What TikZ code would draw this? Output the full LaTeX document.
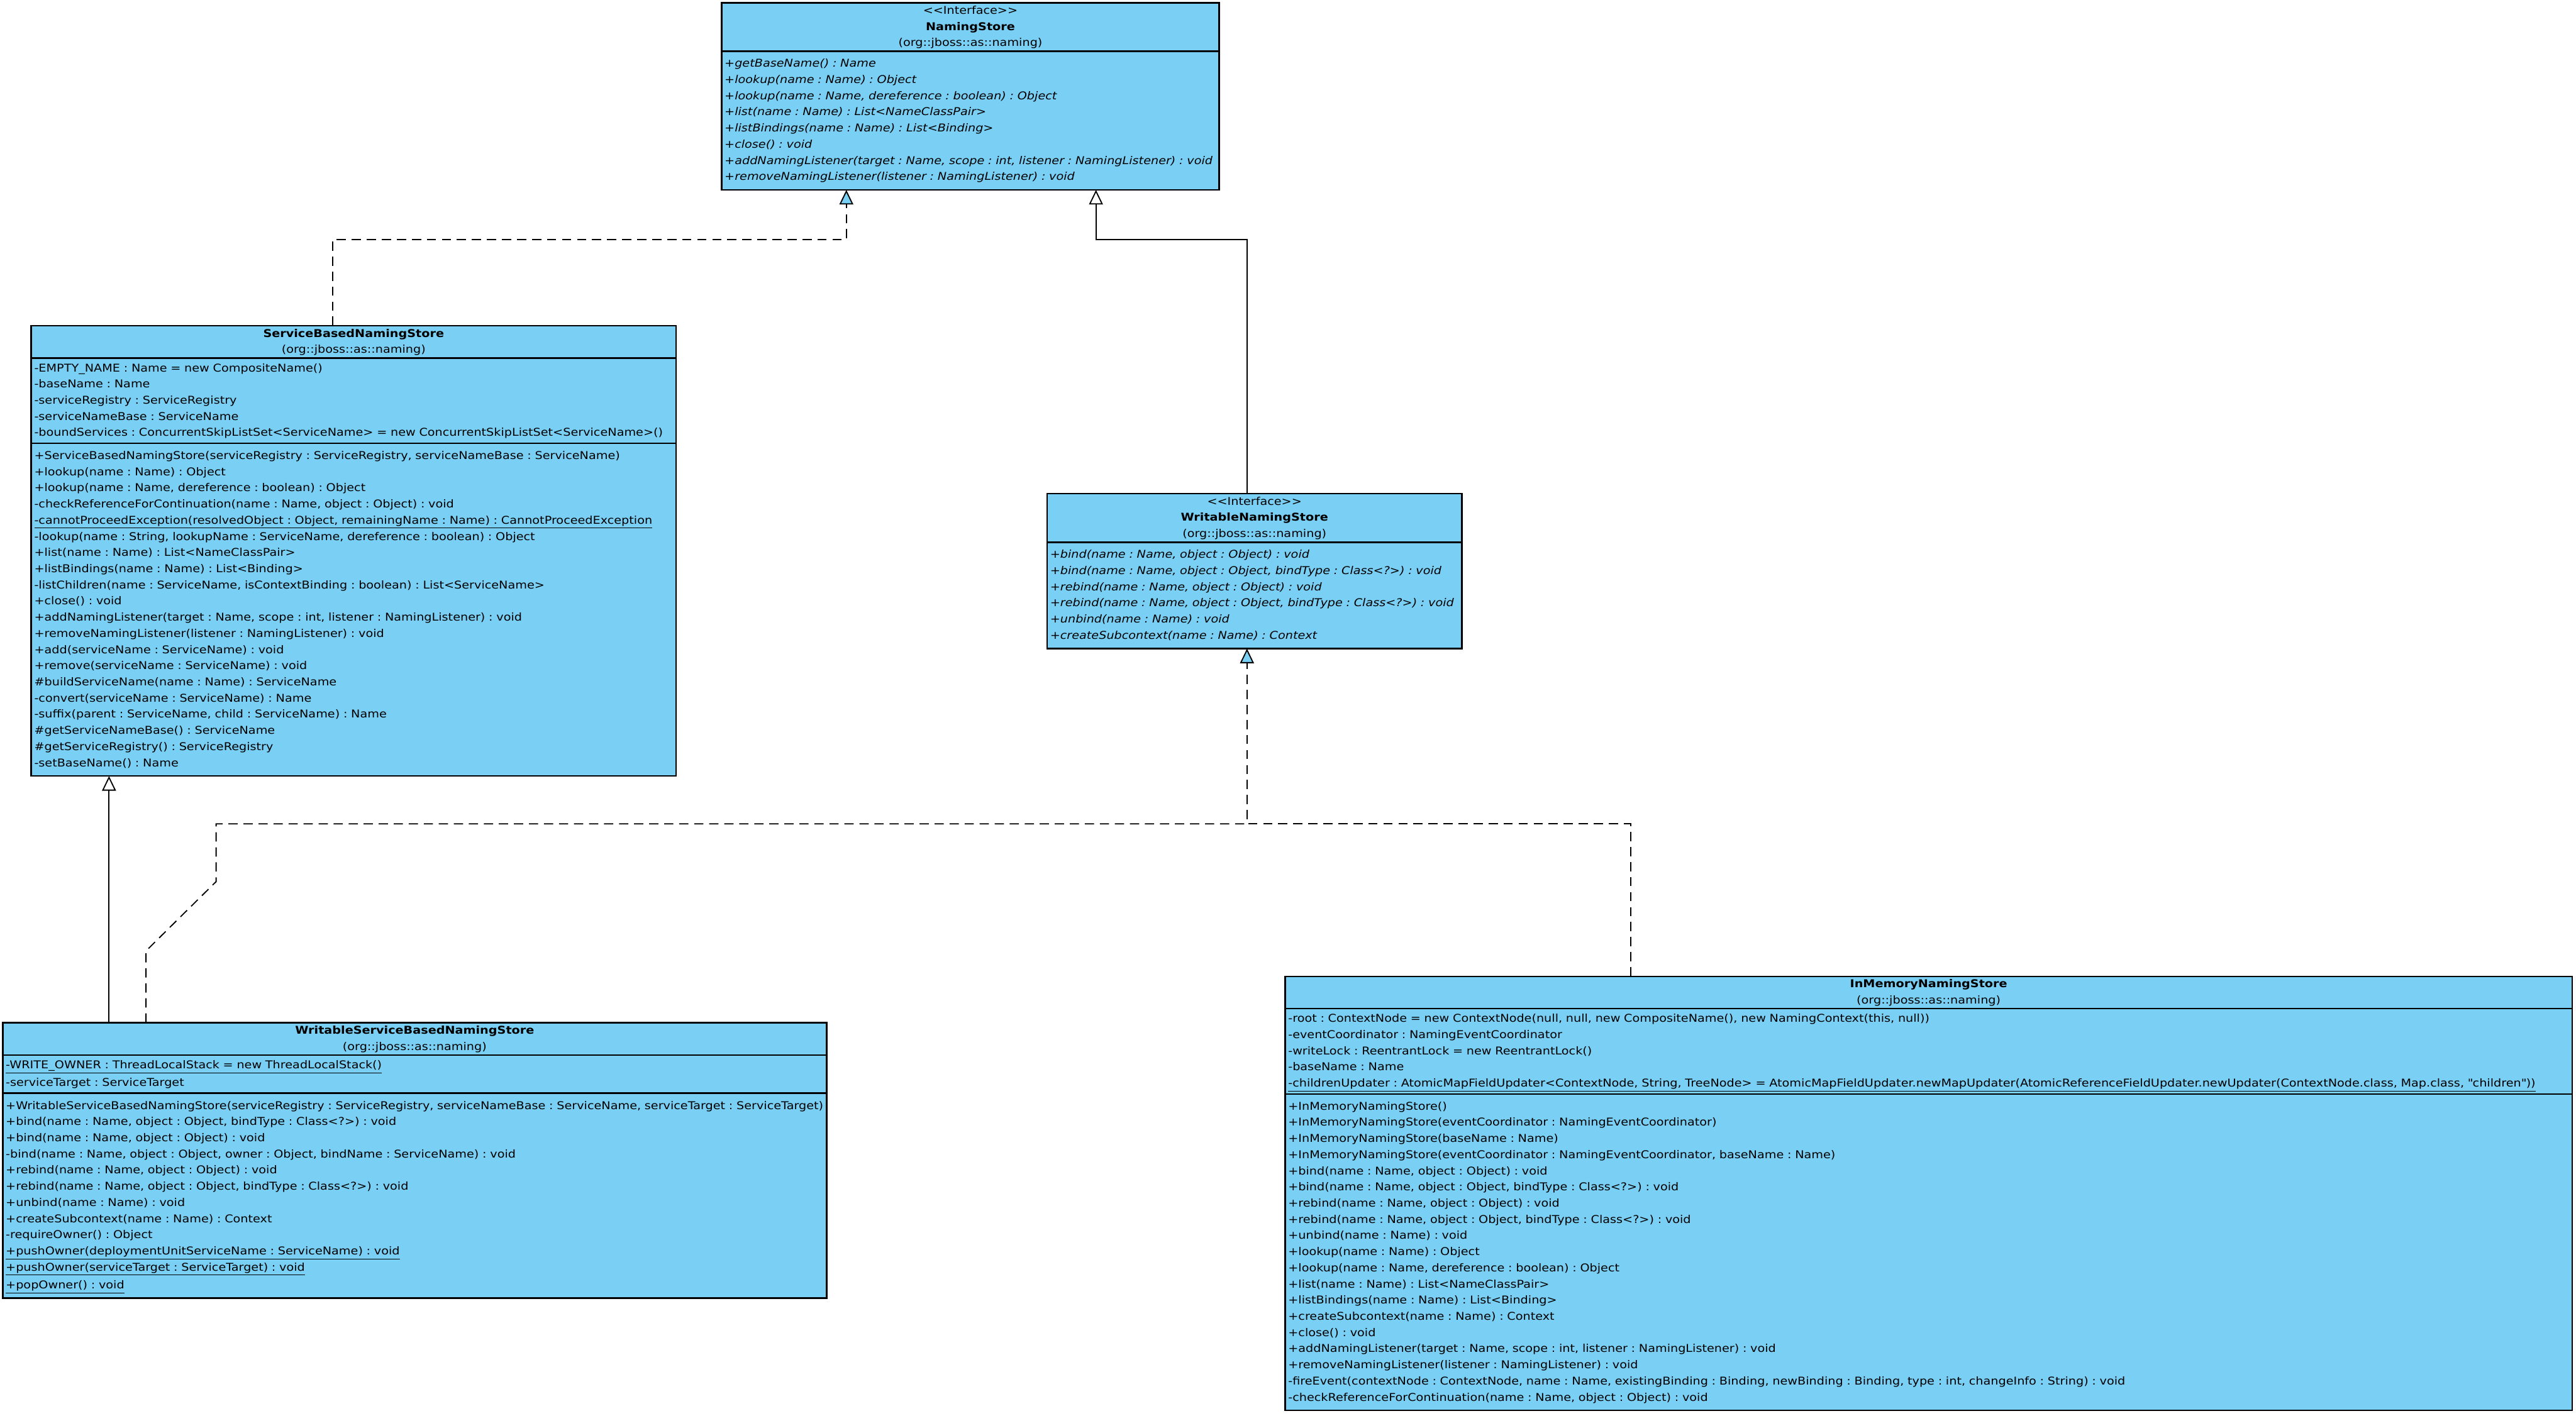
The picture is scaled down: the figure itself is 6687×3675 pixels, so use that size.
\documentclass[tikz,border=0pt]{standalone}
\usepackage{fontspec}
\setmainfont{DejaVu Sans}[FakeStretch=1.12]
\usetikzlibrary{positioning,arrows.meta}
\definecolor{umlblue}{HTML}{7ACFF5}
\newcommand{\umlfont}{\fontsize{7.97pt}{11.95pt}\selectfont\frenchspacing}
\tikzset{
  classbox/.style = {rectangle, draw=black, line width=0.4mm, fill=umlblue,
                     inner xsep=0.8mm, outer sep=0pt, font=\umlfont, anchor=north west,
                     execute at begin node={\parindent=0pt\strut}, execute at end node=\strut},
  hdrbox/.style   = {classbox, align=center, inner ysep=0pt},
  attbox/.style   = {classbox, align=left, inner ysep=0.55mm},
  opbox/.style    = {classbox, align=left, inner ysep=1.2mm},
  inherit/.style  = {line width=0.3mm, -{Triangle[open, length=3.8mm, width=3.6mm]}},
  dep/.style      = {line width=0.3mm, dash pattern=on 2.4mm off 1.5mm},
  realize/.style  = {dep, -{Triangle[fill=umlblue, length=3.8mm, width=3.6mm]}},
}

\begin{document}
\begin{tikzpicture}[x=0.1mm, y=-0.1mm]
  \path[use as bounding box, fill=white] (0,0) rectangle (6687,3675);

  % NamingStore
  \node[hdrbox, text width=127.6mm] (ns) at (1873,7)
    {<{}<Interface>{}>\\\textbf{NamingStore}\\(org::jboss::as::naming)};
  \node[opbox, text width=127.6mm, below=0pt of ns] (nsop) {\itshape
    +getBaseName() : Name\\
    +lookup(name : Name) : Object\\
    +lookup(name : Name, dereference : boolean) : Object\\
    +list(name : Name) : List<NameClassPair>\\
    +listBindings(name : Name) : List<Binding>\\
    +close() : void\\
    \mbox{+addNamingListener(target : Name, scope : int, listener : NamingListener) : void}\\
    +removeNamingListener(listener : NamingListener) : void};

  % ServiceBasedNamingStore
  \node[hdrbox, text width=165.8mm] (sb) at (81,846)
    {\textbf{ServiceBasedNamingStore}\\(org::jboss::as::naming)};
  \node[attbox, text width=165.8mm, below=0pt of sb] (sbat) {%
    -EMPTY\_NAME : Name = new CompositeName()\\
    -baseName : Name\\
    -serviceRegistry : ServiceRegistry\\
    -serviceNameBase : ServiceName\\
    \mbox{-boundServices : ConcurrentSkipListSet<ServiceName> = new ConcurrentSkipListSet<ServiceName>()}};
  \node[opbox, text width=165.8mm, below=0pt of sbat] (sbop) {%
    +ServiceBasedNamingStore(serviceRegistry : ServiceRegistry, serviceNameBase : ServiceName)\\
    +lookup(name : Name) : Object\\
    +lookup(name : Name, dereference : boolean) : Object\\
    -checkReferenceForContinuation(name : Name, object : Object) : void\\
    \underline{-cannotProceedException(resolvedObject : Object, remainingName : Name) : CannotProceedException}\\
    -lookup(name : String, lookupName : ServiceName, dereference : boolean) : Object\\
    +list(name : Name) : List<NameClassPair>\\
    +listBindings(name : Name) : List<Binding>\\
    -listChildren(name : ServiceName, isContextBinding : boolean) : List<ServiceName>\\
    +close() : void\\
    +addNamingListener(target : Name, scope : int, listener : NamingListener) : void\\
    +removeNamingListener(listener : NamingListener) : void\\
    +add(serviceName : ServiceName) : void\\
    +remove(serviceName : ServiceName) : void\\
    \#buildServiceName(name : Name) : ServiceName\\
    -convert(serviceName : ServiceName) : Name\\
    -suffix(parent : ServiceName, child : ServiceName) : Name\\
    \#getServiceNameBase() : ServiceName\\
    \#getServiceRegistry() : ServiceRegistry\\
    -setBaseName() : Name};

  % WritableNamingStore
  \node[hdrbox, text width=106.1mm] (wn) at (2718,1282)
    {<{}<Interface>{}>\\\textbf{WritableNamingStore}\\(org::jboss::as::naming)};
  \node[opbox, text width=106.1mm, below=0pt of wn] (wnop) {\itshape
    +bind(name : Name, object : Object) : void\\
    \mbox{+bind(name : Name, object : Object, bindType : Class<?>) : void}\\
    +rebind(name : Name, object : Object) : void\\
    \mbox{+rebind(name : Name, object : Object, bindType : Class<?>) : void}\\
    +unbind(name : Name) : void\\
    +createSubcontext(name : Name) : Context};

  % WritableServiceBasedNamingStore
  \node[hdrbox, text width=212.3mm] (ws) at (7,2655)
    {\textbf{WritableServiceBasedNamingStore}\\(org::jboss::as::naming)};
  \node[attbox, text width=212.3mm, below=0pt of ws] (wsat) {%
    \underline{-WRITE\_OWNER : ThreadLocalStack = new ThreadLocalStack()}\\
    -serviceTarget : ServiceTarget};
  \node[opbox, text width=212.3mm, below=0pt of wsat] (wsop) {%
    \mbox{+WritableServiceBasedNamingStore(serviceRegistry : ServiceRegistry, serviceNameBase : ServiceName, serviceTarget : ServiceTarget)}\\
    +bind(name : Name, object : Object, bindType : Class<?>) : void\\
    +bind(name : Name, object : Object) : void\\
    -bind(name : Name, object : Object, owner : Object, bindName : ServiceName) : void\\
    +rebind(name : Name, object : Object) : void\\
    +rebind(name : Name, object : Object, bindType : Class<?>) : void\\
    +unbind(name : Name) : void\\
    +createSubcontext(name : Name) : Context\\
    -requireOwner() : Object\\
    \underline{+pushOwner(deploymentUnitServiceName : ServiceName) : void}\\
    \underline{+pushOwner(serviceTarget : ServiceTarget) : void}\\
    \underline{+popOwner() : void}};

  % InMemoryNamingStore
  \node[hdrbox, text width=332.5mm] (im) at (3336,2535)
    {\textbf{InMemoryNamingStore}\\(org::jboss::as::naming)};
  \node[attbox, text width=332.5mm, below=0pt of im] (imat) {%
    -root : ContextNode = new ContextNode(null, null, new CompositeName(), new NamingContext(this, null))\\
    -eventCoordinator : NamingEventCoordinator\\
    -writeLock : ReentrantLock = new ReentrantLock()\\
    -baseName : Name\\
    \underline{-childrenUpdater : AtomicMapFieldUpdater<ContextNode, String, TreeNode> = AtomicMapFieldUpdater.newMapUpdater(AtomicReferenceFieldUpdater.newUpdater(ContextNode.class, Map.class, \textquotedbl children\textquotedbl))}};
  \node[opbox, text width=332.5mm, below=0pt of imat] (imop) {%
    +InMemoryNamingStore()\\
    +InMemoryNamingStore(eventCoordinator : NamingEventCoordinator)\\
    +InMemoryNamingStore(baseName : Name)\\
    +InMemoryNamingStore(eventCoordinator : NamingEventCoordinator, baseName : Name)\\
    +bind(name : Name, object : Object) : void\\
    +bind(name : Name, object : Object, bindType : Class<?>) : void\\
    +rebind(name : Name, object : Object) : void\\
    +rebind(name : Name, object : Object, bindType : Class<?>) : void\\
    +unbind(name : Name) : void\\
    +lookup(name : Name) : Object\\
    +lookup(name : Name, dereference : boolean) : Object\\
    +list(name : Name) : List<NameClassPair>\\
    +listBindings(name : Name) : List<Binding>\\
    +createSubcontext(name : Name) : Context\\
    +close() : void\\
    +addNamingListener(target : Name, scope : int, listener : NamingListener) : void\\
    +removeNamingListener(listener : NamingListener) : void\\
    -fireEvent(contextNode : ContextNode, name : Name, existingBinding : Binding, newBinding : Binding, type : int, changeInfo : String) : void\\
    -checkReferenceForContinuation(name : Name, object : Object) : void};

  % bends of the connectors
  \coordinate (sbup) at (864,622);
  \coordinate (nsa)  at (2197,622);
  \coordinate (wnup) at (3237,622);
  \coordinate (nsb)  at (2845,622);
  \coordinate (wnin) at (3237,2139);
  \coordinate (imup) at (4233,2139);
  \coordinate (wsa)  at (379,2469);
  \coordinate (wsb)  at (561,2289);
  \coordinate (wsc)  at (561,2139);
  \coordinate (wsg)  at (283,2300);

  \draw[realize] (sb.north -| sbup) -- (sbup) -- (nsa) -- (nsa |- nsop.south);
  \draw[inherit] (wn.north -| wnup) -- (wnup) -- (nsb) -- (nsb |- nsop.south);
  \draw[realize] (im.north -| imup) -- (imup) -- (wnin) -- (wnin |- wnop.south);
  \draw[dep] (ws.north -| wsa) -- (wsa) -- (wsb) -- (wsc) -- (wnin);
  \draw[inherit] (ws.north -| wsg) -- (wsg |- sbop.south);
\end{tikzpicture}
\end{document}
